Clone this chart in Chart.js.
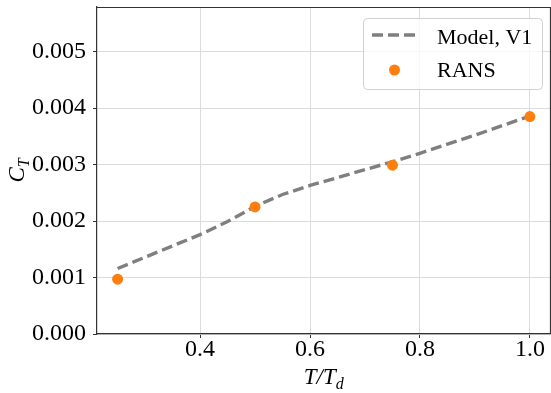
<!DOCTYPE html>
<html>
<head>
<meta charset="utf-8">
<script src="https://cdn.jsdelivr.net/npm/chart.js@4.4.1/dist/chart.umd.min.js"></script>
<style>
  html, body { margin: 0; padding: 0; background: #fff; overflow: hidden; }
  #wrap { width: 556px; height: 393px; }
</style>
</head>
<body>
<div id="wrap"><canvas id="myChart" width="556" height="393"></canvas></div>
<script>
// thrust coefficient vs. normalised thrust
const modelX = [0.25, 0.30, 0.35, 0.40, 0.45, 0.50, 0.55, 0.60, 0.65, 0.70, 0.75, 0.80, 0.85, 0.90, 0.95, 1.00];
const modelY = [0.00116, 0.00136, 0.00156, 0.00176, 0.00199, 0.00226, 0.00247, 0.00263, 0.00277, 0.00291,
                0.00305, 0.00320, 0.00336, 0.00352, 0.00369, 0.00386];
const ransX = [0.25, 0.50, 0.75, 1.00];
const ransY = [0.00097, 0.00225, 0.00299, 0.00385];
const seriesLabels = ["Model, V1", "RANS"];
const xTicks = [0.4, 0.6, 0.8, 1.0];
const yTicks = [0.000, 0.001, 0.002, 0.003, 0.004, 0.005];

const SERIF = "'Liberation Serif', 'Times New Roman', serif";
const INK = "#333333";

function toPoints(xs, ys) {
    const pts = [];
    for (let i = 0; i < Math.min(xs.length, ys.length); i++) {
        pts.push({x: xs[i], y: ys[i]});
    }
    return pts;
}

// top/right spines, axis titles with subscripts, framed legend
const extrasPlugin = {
    id: 'extras',
    afterDraw(chart) {
        const ctx = chart.ctx;
        const a = chart.chartArea;
        ctx.save();

        ctx.strokeStyle = INK;
        ctx.lineWidth = 1.2;
        ctx.beginPath();
        ctx.moveTo(a.left, a.top + 0.5);
        ctx.lineTo(a.right, a.top + 0.5);
        ctx.lineTo(a.right, a.bottom);
        ctx.stroke();

        ctx.fillStyle = "#000";
        ctx.textBaseline = "alphabetic";

        // x title: T/T_d
        const big = "italic 23px " + SERIF;
        const small = "italic 16px " + SERIF;
        ctx.font = big;
        const w1 = ctx.measureText("T/T").width;
        ctx.font = small;
        const w2 = ctx.measureText("d").width;
        let tx = (a.left + a.right) / 2 - (w1 + w2) / 2;
        ctx.font = big;
        ctx.textAlign = "left";
        ctx.fillText("T/T", tx, 384);
        ctx.font = small;
        ctx.fillText("d", tx + w1, 389);

        // y title: C_T
        ctx.save();
        ctx.translate(24, (a.top + a.bottom) / 2);
        ctx.rotate(-Math.PI / 2);
        ctx.font = big;
        const c1 = ctx.measureText("C").width;
        ctx.font = small;
        const c2 = ctx.measureText("T").width;
        const cx = -(c1 + c2) / 2;
        ctx.font = big;
        ctx.fillText("C", cx, 0);
        ctx.font = small;
        ctx.fillText("T", cx + c1, 5);
        ctx.restore();

        // legend frame
        const lx = 363.5, ly = 18.5, lw = 179, lh = 71, r = 4;
        ctx.beginPath();
        ctx.moveTo(lx + r, ly);
        ctx.arcTo(lx + lw, ly, lx + lw, ly + lh, r);
        ctx.arcTo(lx + lw, ly + lh, lx, ly + lh, r);
        ctx.arcTo(lx, ly + lh, lx, ly, r);
        ctx.arcTo(lx, ly, lx + lw, ly, r);
        ctx.closePath();
        ctx.fillStyle = "rgba(255,255,255,0.8)";
        ctx.fill();
        ctx.strokeStyle = "#d0d0d0";
        ctx.lineWidth = 1;
        ctx.stroke();

        const model = chart.data.datasets[0];
        const rans = chart.data.datasets[1];
        ctx.strokeStyle = model.borderColor;
        ctx.lineWidth = model.borderWidth;
        ctx.setLineDash(model.borderDash);
        ctx.beginPath();
        ctx.moveTo(372, 35);
        ctx.lineTo(417, 35);
        ctx.stroke();
        ctx.setLineDash([]);

        ctx.fillStyle = rans.backgroundColor;
        ctx.beginPath();
        ctx.arc(394.5, 70, rans.pointRadius, 0, Math.PI * 2);
        ctx.fill();

        ctx.fillStyle = "#000";
        ctx.font = "22px " + SERIF;
        ctx.fillText(model.label, 437, 44);
        ctx.fillText(rans.label, 437, 76.5);

        ctx.restore();
    }
};

const ctx = document.getElementById('myChart').getContext('2d');
const myChart = new Chart(ctx, {
    type: 'scatter',
    data: {
        datasets: [{
            label: seriesLabels[0],
            data: toPoints(modelX, modelY),
            showLine: true,
            borderColor: '#7f7f7f',
            backgroundColor: '#7f7f7f',
            borderWidth: 3.4,
            borderDash: [11, 5],
            pointRadius: 0,
            order: 1
        }, {
            label: seriesLabels[1],
            data: toPoints(ransX, ransY),
            showLine: false,
            backgroundColor: '#ff7f0e',
            borderColor: '#ff7f0e',
            borderWidth: 0,
            pointRadius: 5.5,
            order: 0
        }]
    },
    options: {
        responsive: false,
        animation: false,
        devicePixelRatio: 1,
        layout: { padding: { top: 7, left: 0, right: 2, bottom: 0 } },
        plugins: {
            legend: { display: false },
            tooltip: { enabled: false }
        },
        scales: {
            x: {
                type: 'linear',
                min: 0.2125,
                max: 1.0375,
                afterFit: (scale) => {
                    scale.height = 59;
                    scale.paddingLeft = 0;
                    scale.paddingRight = 0;
                },
                afterBuildTicks: (scale) => { scale.ticks = xTicks.map(v => ({value: v})); },
                ticks: {
                    includeBounds: false,
                    padding: 0,
                    color: '#000',
                    font: { family: SERIF, size: 24, lineHeight: 1 },
                    callback: (v) => Number(v).toFixed(1),
                    maxRotation: 0
                },
                grid: { color: '#dcdcdc', lineWidth: 1, tickColor: INK, tickLength: 4 },
                border: { color: INK, width: 1.2 }
            },
            y: {
                type: 'linear',
                min: 0,
                max: 0.00579,
                afterFit: (scale) => {
                    scale.width = 97;
                    scale.paddingTop = 0;
                    scale.paddingBottom = 0;
                },
                afterBuildTicks: (scale) => { scale.ticks = yTicks.map(v => ({value: v})); },
                ticks: {
                    includeBounds: false,
                    padding: 7,
                    color: '#000',
                    font: { family: SERIF, size: 24, lineHeight: 1 },
                    callback: (v) => Number(v).toFixed(3)
                },
                grid: { color: '#dcdcdc', lineWidth: 1, tickColor: INK, tickLength: 4 },
                border: { color: INK, width: 1.2 }
            }
        }
    },
    plugins: [extrasPlugin]
});
</script>
</body>
</html>
